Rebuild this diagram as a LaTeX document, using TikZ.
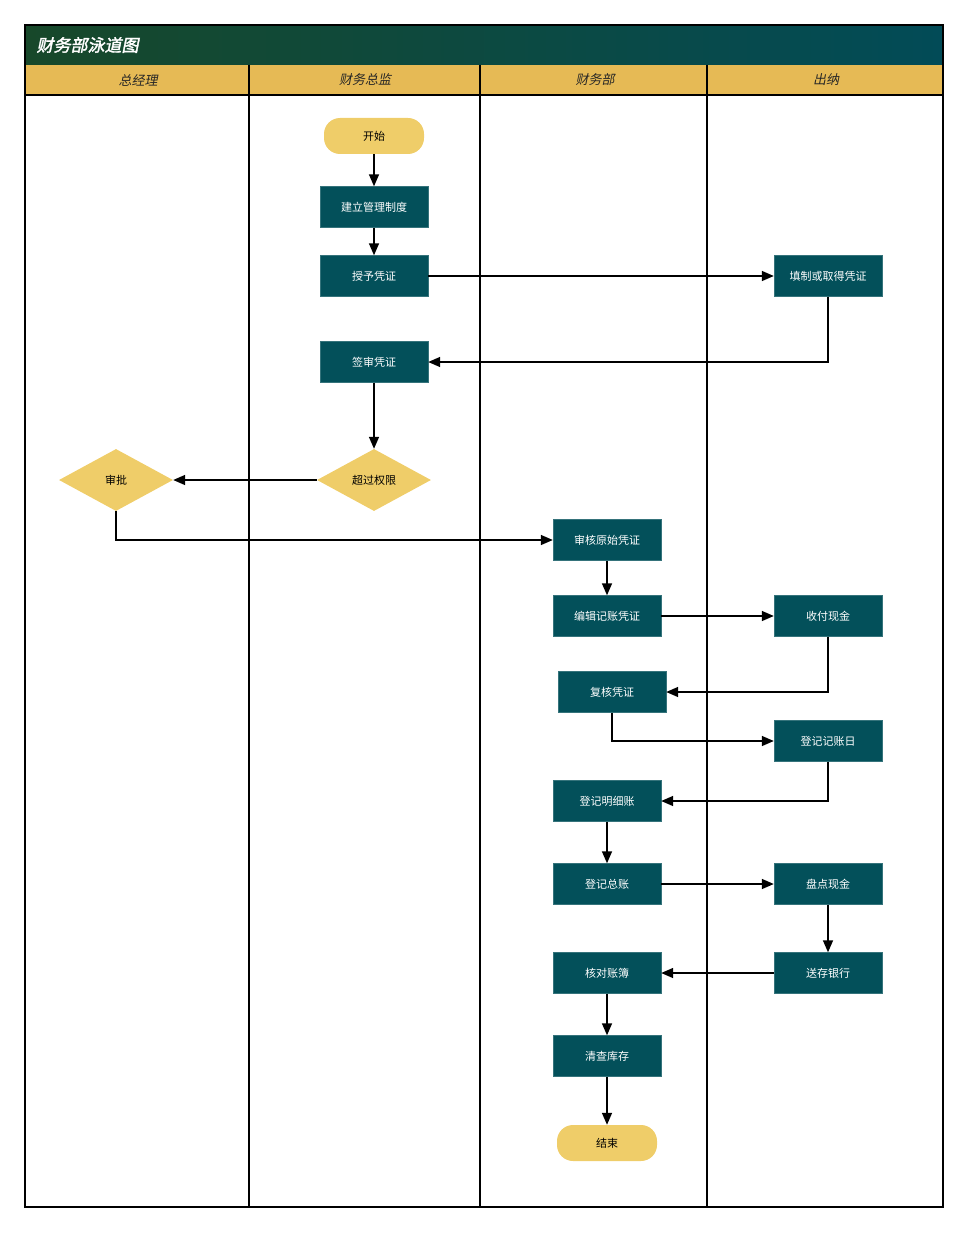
\documentclass[tikz,border=0pt]{standalone}
\usepackage{fontspec}
\setmainfont{Noto Sans CJK SC}
\newfontfamily\cjkit[FakeSlant=0.2]{Noto Sans CJK SC}
\newfontfamily\cjktitle[FakeSlant=0.2,FakeBold=2]{Noto Sans CJK SC}
\usetikzlibrary{arrows.meta,shapes.geometric,positioning}
\definecolor{tealbox}{HTML}{03505A}
\definecolor{goldnode}{HTML}{EFCD69}
\definecolor{headgold}{HTML}{E6BA55}
\definecolor{titleleft}{HTML}{17482A}
\definecolor{titleright}{HTML}{024B57}
\tikzset{
  paso/.style={rectangle,fill=tealbox,draw=tealbox!80!white,text=white,minimum width=108,minimum height=41,inner sep=0,font=\fontsize{11}{13}\selectfont},
  terminal/.style={rectangle,rounded corners=16,fill=goldnode,minimum width=100,minimum height=36,inner sep=0,font=\fontsize{11}{13}\selectfont},
  decision/.style={diamond,fill=goldnode,minimum width=114,minimum height=62,inner sep=0,font=\fontsize{11}{13}\selectfont},
  flecha/.style={-{Triangle[length=12pt,width=10pt]},line width=1.5pt},
  carril/.style={line width=2pt},
  cabecera/.style={font=\cjkit\fontsize{13}{15}\selectfont,text=black!85}
}
\begin{document}
\begin{tikzpicture}[x=1pt,y=-1pt]
    \useasboundingbox (0,0) rectangle (968,1233);

    % Título y cabeceras
    \fill[left color=titleleft,right color=titleright] (25,25) rectangle (943,65);
    \fill[headgold] (25,65) rectangle (943,95);
    \node[anchor=west,text=white,font=\cjktitle\fontsize{17}{19}\selectfont] (titulo) at (33,45) {财务部泳道图};
    \node[cabecera] (h1) at (138,80) {总经理};
    \node[cabecera] (h2) at (365,80) {财务总监};
    \node[cabecera] (h3) at (595,80) {财务部};
    \node[cabecera] (h4) at (826,80) {出纳};

    % Carriles
    \draw[carril] (25,95) -- (943,95);
    \foreach \x in {249,480,707}
        \draw[carril] (\x,65) -- (\x,1207);
    \draw[carril] (25,25) rectangle (943,1207);

    % Nodos
    \node[terminal] (inicio) at (374,136) {开始};
    \node[paso] (sistema) at (374,207) {建立管理制度};
    \node[paso] (otorgar) at (374,276) {授予凭证};
    \node[paso] (llenar) at (828,276) {填制或取得凭证};
    \node[paso] (firmar) at (374,362) {签审凭证};
    \node[decision] (limite) at (374,480) {超过权限};
    \node[decision] (aprobar) at (116,480) {审批};
    \node[paso] (revisar) at (607,540) {审核原始凭证};
    \node[paso] (editar) at (607,616) {编辑记账凭证};
    \node[paso] (cobrar) at (828,616) {收付现金};
    \node[paso] (recheck) at (612,692) {复核凭证};
    \node[paso] (diario) at (828,741) {登记记账日};
    \node[paso] (detalle) at (607,801) {登记明细账};
    \node[paso] (mayor) at (607,884) {登记总账};
    \node[paso] (contar) at (828,884) {盘点现金};
    \node[paso] (banco) at (828,973) {送存银行};
    \node[paso] (cotejar) at (607,973) {核对账簿};
    \node[paso] (stock) at (607,1056) {清查库存};
    \node[terminal] (fin) at (607,1143) {结束};

    % Conectores
    \draw[flecha] (inicio) -- (sistema);
    \draw[flecha] (sistema) -- (otorgar);
    \draw[flecha] (otorgar) -- (llenar);
    \draw[flecha] (llenar.south) |- (firmar.east);
    \draw[flecha] (firmar) -- (limite);
    \draw[flecha] (limite) -- (aprobar);
    \draw[flecha] (aprobar.south) |- (revisar.west);
    \draw[flecha] (revisar) -- (editar);
    \draw[flecha] (editar) -- (cobrar);
    \draw[flecha] (cobrar.south) |- (recheck.east);
    \draw[flecha] (recheck.south) |- (diario.west);
    \draw[flecha] (diario.south) |- (detalle.east);
    \draw[flecha] (detalle) -- (mayor);
    \draw[flecha] (mayor) -- (contar);
    \draw[flecha] (contar) -- (banco);
    \draw[flecha] (banco) -- (cotejar);
    \draw[flecha] (cotejar) -- (stock);
    \draw[flecha] (stock) -- (fin);
\end{tikzpicture}
\end{document}
